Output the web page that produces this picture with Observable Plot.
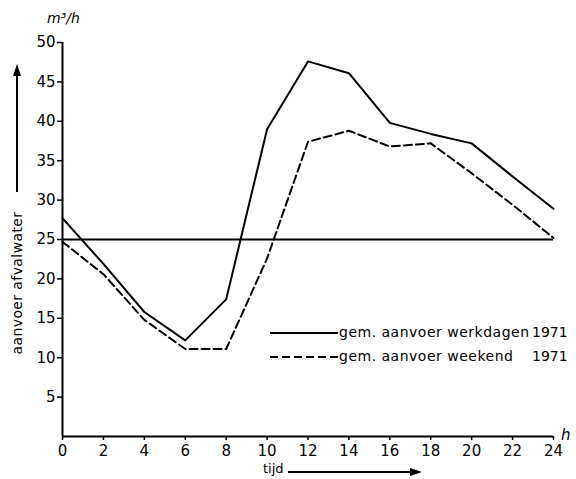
<!DOCTYPE html>
<html>
<head>
<meta charset="utf-8">
<script src="https://cdn.jsdelivr.net/npm/d3@7"></script>
<script src="https://cdn.jsdelivr.net/npm/@observablehq/plot@0.6"></script>
<style>
  html, body { margin: 0; padding: 0; background: #fff; }
  #wrap { position: relative; width: 576px; height: 479px; font-family: "DejaVu Sans", sans-serif; color: #000; }
  #wrap svg.plot { position: absolute; left: 0; top: 0; }
  .ov { position: absolute; white-space: pre; line-height: 1; }
</style>
</head>
<body>
<div id="wrap"></div>
<script>
// ---- data ----
const hours = [0, 2, 4, 6, 8, 10, 12, 14, 16, 18, 20, 22, 24];
const werkdagen = [27.7, 21.9, 15.8, 12.2, 17.4, 39.0, 47.6, 46.1, 39.8, 38.4, 37.2, 33.0, 28.9];
const weekend   = [24.7, 20.6, 14.8, 11.1, 11.1, 22.6, 37.4, 38.8, 36.8, 37.2, 33.4, 29.4, 25.2];
const gemiddelde = [25];
const xTicks = [0, 2, 4, 6, 8, 10, 12, 14, 16, 18, 20, 22, 24];
const yTicks = [5, 10, 15, 20, 25, 30, 35, 40, 45, 50];
const seriesLabels = ["gem. aanvoer werkdagen", "gem. aanvoer weekend"];
const seriesYear = "1971";
const yLabel = "aanvoer afvalwater";
const xLabel = "tijd";
const yUnit = "m³/h";
const xUnit = "h";

const werkRows = hours.map((h, i) => ({h, v: werkdagen[i]}));
const weekRows = hours.map((h, i) => ({h, v: weekend[i]}));

const chart = Plot.plot({
  width: 576,
  height: 479,
  marginLeft: 62,
  marginRight: 23,
  marginTop: 42,
  marginBottom: 43,
  style: {fontFamily: "DejaVu Sans, sans-serif", color: "#000", background: "#fff"},
  x: {domain: [0, 24]},
  y: {domain: [0, 50]},
  marks: [
    Plot.axisX({ticks: xTicks, tickSize: 4, tickPadding: 5, fontSize: 15, label: null, tickFormat: d => d, strokeWidth: 1.5}),
    Plot.axisY({ticks: yTicks, tickSize: 5, tickPadding: 2, fontSize: 15, label: null, tickFormat: d => d, strokeWidth: 1.5}),
    Plot.ruleX([0], {stroke: "#000", strokeWidth: 2}),
    Plot.ruleY([0], {stroke: "#000", strokeWidth: 2}),
    Plot.ruleY(gemiddelde, {stroke: "#000", strokeWidth: 2}),
    Plot.lineY(werkRows, {x: "h", y: "v", stroke: "#000", strokeWidth: 2}),
    Plot.lineY(weekRows, {x: "h", y: "v", stroke: "#000", strokeWidth: 2, strokeDasharray: "8,4"})
  ]
});
chart.classList.add("plot");
const wrap = document.getElementById("wrap");
wrap.appendChild(chart);

function ov(html, css) {
  const d = document.createElement("div");
  d.className = "ov";
  d.innerHTML = html;
  Object.assign(d.style, css);
  wrap.appendChild(d);
  return d;
}

// unit labels
ov(yUnit, {left: "47px", top: "11px", fontSize: "14px", fontStyle: "italic"});
ov(xUnit, {left: "561px", top: "428px", fontSize: "15px", fontStyle: "italic"});

// x label with arrow
ov(xLabel, {left: "263px", top: "462px", fontSize: "13px"});
ov(`<svg width="140" height="12"><line x1="0" y1="6" x2="124" y2="6" stroke="#000" stroke-width="2"/><path d="M122,2 L134,6 L122,10 Z" fill="#000"/></svg>`,
   {left: "288px", top: "465px"});

// y label (rotated) with arrow
ov(yLabel, {left: "17px", top: "283px", fontSize: "14px", letterSpacing: "0.4px", transform: "translate(-50%,-50%) rotate(-90deg)"});
ov(`<svg width="12" height="130"><line x1="6" y1="10" x2="6" y2="128" stroke="#000" stroke-width="2"/><path d="M2,12 L6,0 L10,12 Z" fill="#000"/></svg>`,
   {left: "11px", top: "64px"});

// legend
const leg = [
  {label: seriesLabels[0], dash: null, top: 326},
  {label: seriesLabels[1], dash: "8,4", top: 350}
];
for (const l of leg) {
  ov(`<svg width="68" height="14"><line x1="0" y1="7" x2="68" y2="7" stroke="#000" stroke-width="2" ${l.dash ? `stroke-dasharray="${l.dash}"` : ""}/></svg>`,
     {left: "270px", top: l.top + "px"});
  ov(l.label, {left: "339px", top: (l.top - 1) + "px", fontSize: "14px", letterSpacing: "0.5px"});
  ov(seriesYear, {left: "532px", top: (l.top - 1) + "px", fontSize: "14px"});
}
</script>
</body>
</html>
